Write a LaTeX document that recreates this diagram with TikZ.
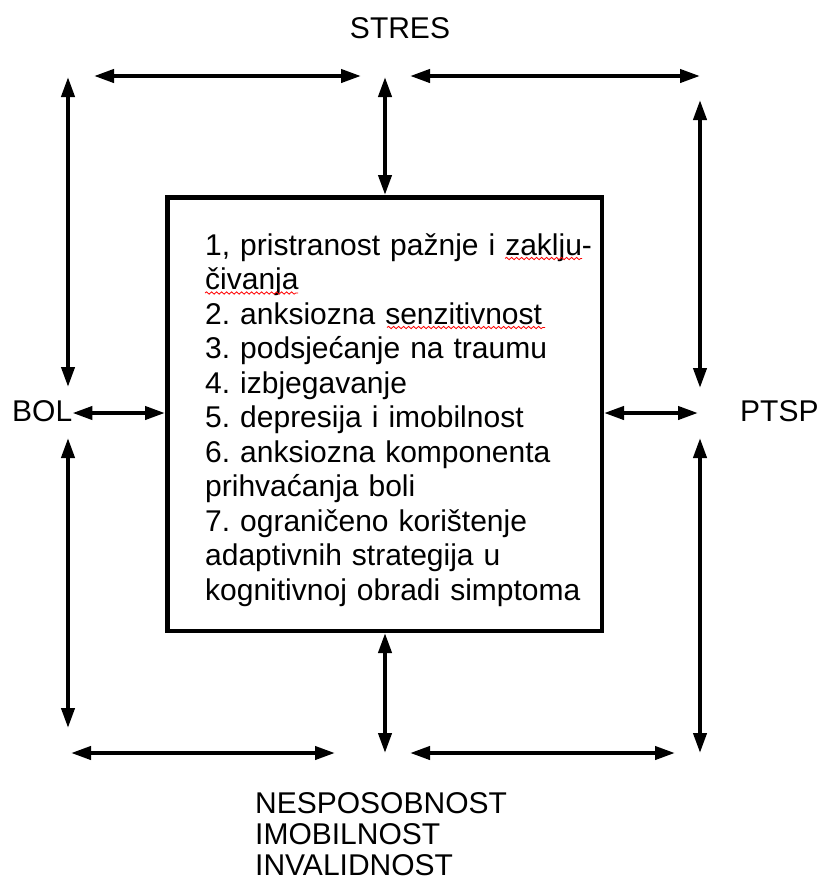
\documentclass[tikz,border=0pt]{standalone}
\usepackage{fontspec}
\setmainfont{Liberation Sans}
\frenchspacing
\usetikzlibrary{arrows.meta, positioning, decorations.pathmorphing}
\tikzset{
link/.style={{Triangle[length=20pt,width=13pt]}-{Triangle[length=20pt,width=13pt]}, line width=4pt}, % double headed arrows
factor/.style={font=\fontsize{30}{31}\selectfont, inner sep=0pt, align=left}, % the four outer words
listbox/.style={draw, line width=4.5pt, inner sep=0pt, minimum width=434.5pt, minimum height=433.5pt}, % the middle frame
listtext/.style={font=\fontsize{30}{34.5}\selectfont, inner sep=0pt, align=left, text width=400pt}, % the seven items
squiggle/.style={red, line width=0.8pt, decorate, decoration={snake, segment length=5pt, amplitude=1.2pt}}, % spelling marks
}

\begin{document}
\begin{tikzpicture}[x=1pt, y=-1pt]
    \useasboundingbox (0,0) rectangle (819,884);

    \node[listbox] (box) at (384.5,414) {};
    \node[listtext, anchor=base west] (list) at (205,255) {1, pristranost pažnje i zaklju-\\
        čivanja\\
        2. anksiozna senzitivnost\\
        3. podsjećanje na traumu\\
        4. izbjegavanje\\
        5. depresija i imobilnost\\
        6. anksiozna komponenta\\
        prihvaćanja boli\\
        7. ograničeno korištenje\\
        adaptivnih strategija u\\
        kognitivnoj obradi simptoma};

    \node[factor, anchor=base] (stres) at (400,38) {STRES};
    \node[factor, anchor=base west] (bol) at (12,421.5) {BOL};
    \node[factor, anchor=base west] (ptsp) at (740,421.5) {PTSP};
    \node[factor, text width=260pt, anchor=base west] (nesp) at (255,813) {NESPOSOBNOST\\IMOBILNOST\\INVALIDNOST};

    % free ends of the arrows
    \coordinate (sl1) at (94,76);  \coordinate (sl2) at (361,76);
    \coordinate (sr1) at (410,76); \coordinate (sr2) at (700,76);
    \coordinate (sc) at (385,77);
    \coordinate (l1) at (68,77);   \coordinate (l2) at (68,387);
    \coordinate (l3) at (68,438);  \coordinate (l4) at (68,728);
    \coordinate (r1) at (700,100); \coordinate (r2) at (700,388);
    \coordinate (r3) at (700,438); \coordinate (r4) at (700,753);
    \coordinate (pa) at (698,413);
    \coordinate (bc) at (385,753);
    \coordinate (bl1) at (71,753); \coordinate (bl2) at (335,753);
    \coordinate (br1) at (410,753); \coordinate (br2) at (675,753);

    \draw[link] (sl1) -- (sl2);
    \draw[link] (sr1) -- (sr2);
    \draw[link] (sc) -- (sc |- box.north);
    \draw[link] (l1) -- (l2);
    \draw[link] (l3) -- (l4);
    \draw[link] (r1) -- (r2);
    \draw[link] (r3) -- (r4);
    \draw[link] (bol.east |- 0,413) -- (box.west |- 0,413);
    \draw[link] (box.east |- pa) -- (pa);
    \draw[link] (bc |- box.south) -- (bc);
    \draw[link] (bl1) -- (bl2);
    \draw[link] (br1) -- (br2);

    % red spelling marks under three words
    \draw[squiggle] ([shift={(300,3.5)}]list.base west) -- ++(77,0);
    \draw[squiggle] ([shift={(0,38)}]list.base west) -- ++(93,0);
    \draw[squiggle] ([shift={(182,72.5)}]list.base west) -- ++(158,0);
\end{tikzpicture}
\end{document}
